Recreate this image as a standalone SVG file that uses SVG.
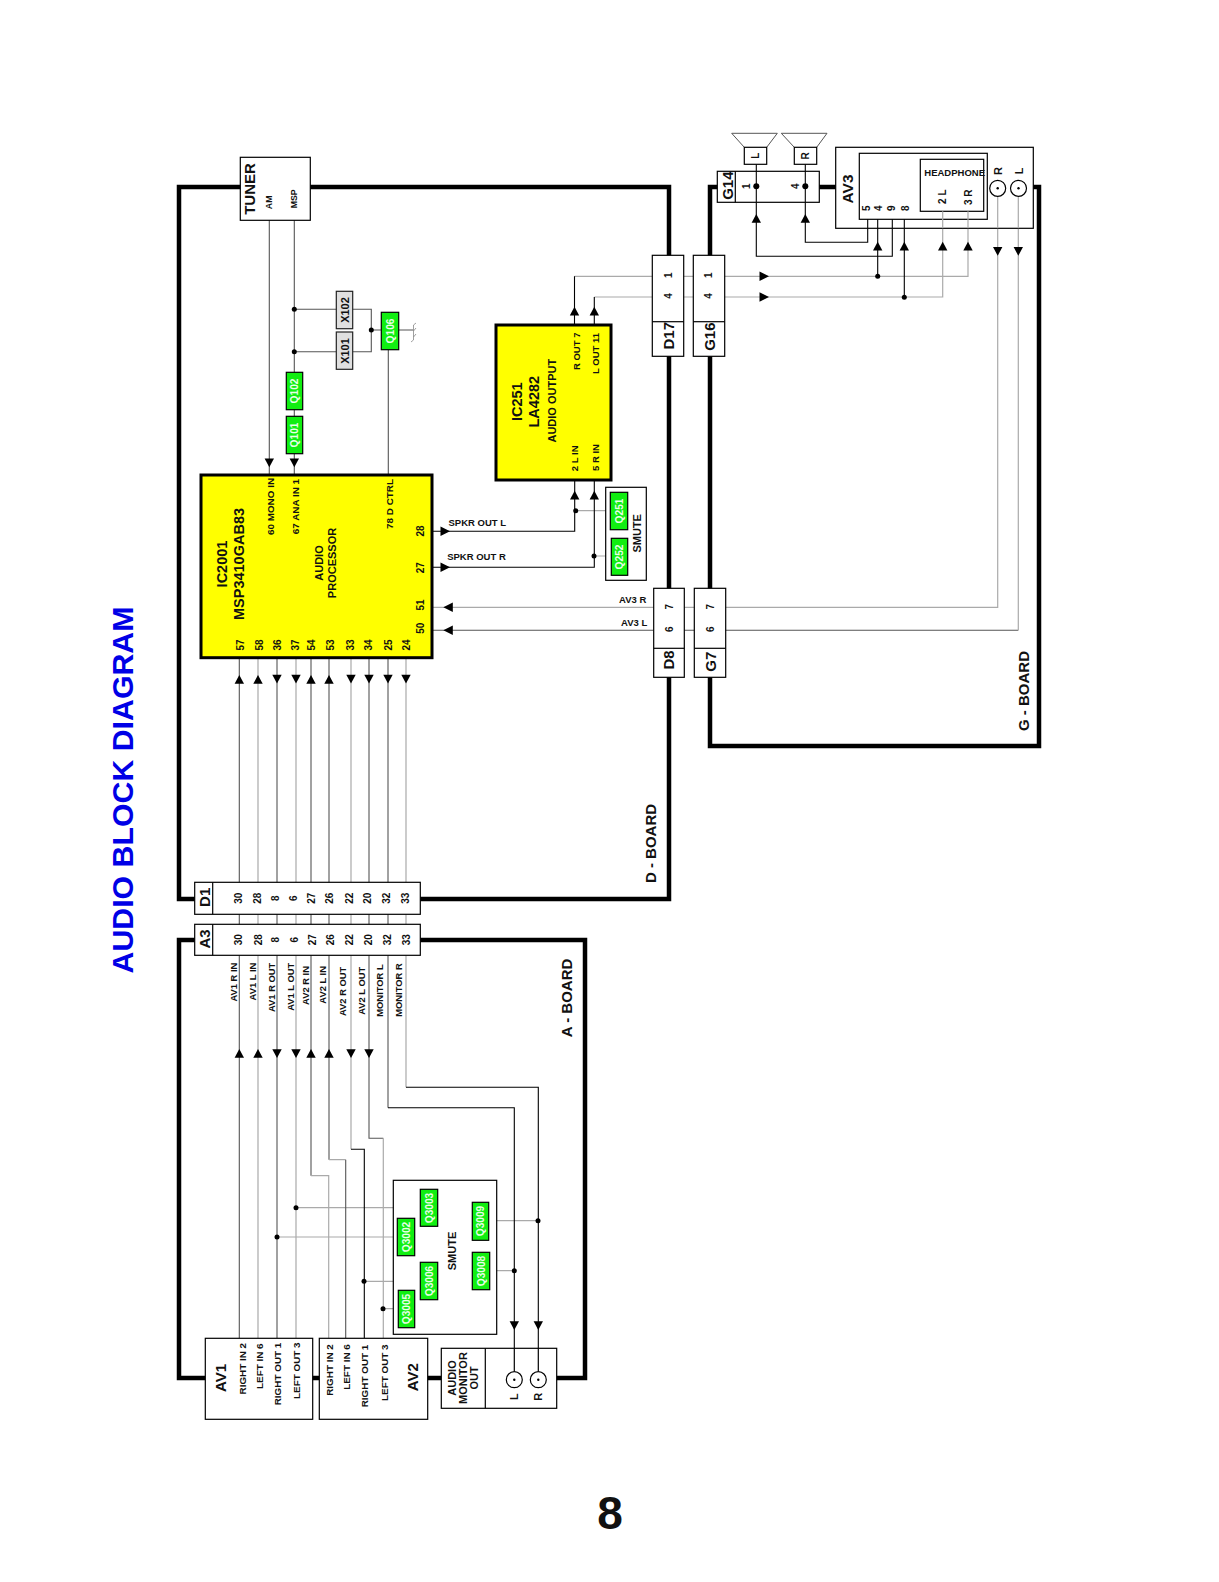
<svg xmlns="http://www.w3.org/2000/svg" width="1219" height="1582" viewBox="0 0 1219 1582">
<style>
text{font-family:"Liberation Sans",Arial,sans-serif;font-weight:bold;fill:#111;dominant-baseline:central;text-anchor:middle}
.h{dominant-baseline:auto;text-anchor:start}
.e{text-anchor:end}
.f8{font-size:8.8px}.f9{font-size:9.4px}.f95{font-size:9.5px}.f98{font-size:9.9px}.f10{font-size:10px}.f11{font-size:11px}.f14{font-size:14.5px}.f15{font-size:15px}.f155{font-size:15.5px}
.q{font-size:10.2px;fill:#e8ffe8}
.b{fill:#fff;stroke:#000;stroke-width:1.2}
.g{fill:#11ee11;stroke:#000;stroke-width:1.2}
.x{fill:#e0e0e0;stroke:#222;stroke-width:1.2}
.y{fill:#ffff00;stroke:#000;stroke-width:3}
.board{fill:none;stroke:#000;stroke-width:4.5}
.k{fill:none;stroke:#000;stroke-width:1.1}
.d{fill:none;stroke:#555;stroke-width:1.1}
.l{fill:none;stroke:#aaa;stroke-width:1.2}
.dot{fill:#000}
</style>
<defs>
<path id="au" d="M0 0L-4.7 8.8L4.7 8.8Z"/>
<path id="ad" d="M0 0L-4.7 -8.8L4.7 -8.8Z"/>
<path id="ar" d="M0 0L-9.5 -4.7L-9.5 4.7Z"/>
<path id="al" d="M0 0L9.5 -4.7L9.5 4.7Z"/>
</defs>
<rect width="1219" height="1582" fill="#fff"/>
<text id="title" transform="translate(122.5 790) rotate(-90)" style="font-size:30.3px;fill:#0000e6">AUDIO BLOCK DIAGRAM</text>
<text id="page" x="610" y="1513" style="font-size:46px">8</text>
<g id="boards">
<rect id="d-board" class="board" x="179" y="187" width="490" height="712"/>
<rect id="a-board" class="board" x="179" y="940" width="406" height="438"/>
<rect id="g-board" class="board" x="710" y="187" width="329" height="559"/>
<text transform="translate(650 843.5) rotate(-90)" class="f15">D - BOARD</text>
<text transform="translate(566 998) rotate(-90)" class="f15">A - BOARD</text>
<text transform="translate(1023 691) rotate(-90)" class="f15">G - BOARD</text>
</g>
<g id="connectors">
<path class="d" d="M239.3 657V1338M277 657V1338M311 657V1175.7M329 657V1159.7M369 657V1138.3H383.3M388 657V1107.7M406 1000V1000M269.3 220V475M294.3 220V475M388.3 350V475M432 630.3H1018.3"/>
<path class="l" d="M258 657V1338M296 657V1338M351 657V1149.3M406 657V1087.3M383.3 1138.3V1338M311 1175.7H328.7V1338M329 1159.7H345.7M432 607.3H997.7V197M1018.3 630.3V197M296 1207.7H420M277 1237H397M488.7 1220.7H538M364.3 1281.3H420M383.3 1308.7H398M489.7 1270.7H514M575 510.7H610.3M594 556H611.3M574.5 276.3H968V211M594.3 297H942.7V211"/>
<path class="d" d="M345.7 1159.7V1338"/>
<path class="k" d="M351 1149.3H364.3V1338M406 1087.3H538.3V1379M388 1107.7H514.3V1379M574.5 325V276.3M594.3 325V297M432 531.3H574.7V480M432 567.3H594.3V480M756.3 164V256.3H892.3V219.3M805.3 164V242.3H867.7V219.3M877.7 219.3V276.3M904.3 219.3V297.3"/>
<path class="d" d="M294.3 309.3H336M294.3 351.7H336M352.7 309.3H371.3V351.7H352.7M371.3 330H381.3M398.7 330H413.3"/>
<path fill="none" stroke="#888" stroke-width=".8" d="M413.5 325V340M413.5 325L416 323M413.5 331L416 328M413.5 337L416 334M413.5 340L411 342"/>
<g>
<use href="#au" x="239.3" y="675"/><use href="#au" x="258" y="675"/><use href="#ad" x="277" y="683.5"/><use href="#ad" x="296" y="683.5"/><use href="#au" x="311" y="675"/><use href="#au" x="329" y="675"/><use href="#ad" x="351" y="683.5"/><use href="#ad" x="369" y="683.5"/><use href="#ad" x="388" y="683.5"/><use href="#ad" x="406" y="683.5"/>
<use href="#au" x="239.3" y="1049"/><use href="#au" x="258" y="1049"/><use href="#ad" x="277" y="1058"/><use href="#ad" x="296" y="1058"/><use href="#au" x="311" y="1049"/><use href="#au" x="329" y="1049"/><use href="#ad" x="351" y="1058"/><use href="#ad" x="369" y="1058"/>
<use href="#ad" x="514.3" y="1330"/><use href="#ad" x="538.3" y="1330"/>
<use href="#ad" x="269.3" y="467.3"/><use href="#ad" x="294.3" y="467.3"/>
<use href="#ar" x="450" y="531.3"/><use href="#ar" x="450" y="567.3"/><use href="#al" x="443.3" y="607.3"/><use href="#al" x="443.3" y="630.3"/>
<use href="#au" x="574.5" y="306.7"/><use href="#au" x="594.3" y="306.7"/><use href="#au" x="574.7" y="490.7"/><use href="#au" x="594.3" y="490.7"/>
<use href="#ar" x="769" y="276.3"/><use href="#ar" x="769" y="297"/>
<use href="#au" x="756.3" y="214"/><use href="#au" x="805.3" y="214"/><use href="#au" x="877.7" y="241.7"/><use href="#au" x="904.3" y="241.7"/><use href="#au" x="942.7" y="241.7"/><use href="#au" x="968" y="241.7"/>
<use href="#ad" x="997.7" y="255.7"/><use href="#ad" x="1018.3" y="255.7"/>
</g>
<g class="dot">
<circle cx="294.3" cy="309.3" r="2.5"/><circle cx="294.3" cy="351.7" r="2.5"/><circle cx="371.3" cy="330" r="2.5"/>
<circle cx="296" cy="1207.7" r="2.5"/><circle cx="277" cy="1237" r="2.5"/><circle cx="364" cy="1281.3" r="2.5"/><circle cx="383" cy="1308.7" r="2.5"/><circle cx="538" cy="1220.7" r="2.5"/><circle cx="514.3" cy="1270.7" r="2.5"/>
<circle cx="575.7" cy="510.7" r="2.5"/><circle cx="594" cy="556" r="2.5"/>
<circle cx="877.7" cy="276.3" r="2.5"/><circle cx="904.3" cy="297.3" r="2.5"/>
</g>
</g>
<g id="tuner"><rect class="b" x="240.3" y="157.3" width="70" height="63"/>
<text class="f15" transform="translate(249.3 189) rotate(-90)">TUNER</text><text class="f8" transform="translate(269 202.3) rotate(-90)">AM</text><text class="f8" transform="translate(294 198.8) rotate(-90)">MSP</text></g>
<g id="x102"><rect class="x" x="336.3" y="291.3" width="16.4" height="37.4"/><text class="f11" transform="translate(344.7 310) rotate(-90)">X102</text></g>
<g id="x101"><rect class="x" x="336.3" y="332" width="16.4" height="37.3"/><text class="f11" transform="translate(344.7 351) rotate(-90)">X101</text></g>
<g id="q106"><rect class="g" x="381.3" y="312.3" width="17.4" height="37.4"/><text class="q" transform="translate(390 331) rotate(-90)">Q106</text></g>
<g id="q102"><rect class="g" x="286.3" y="372.3" width="16.4" height="37.4"/><text class="q" transform="translate(294.5 391) rotate(-90)">Q102</text></g>
<g id="q101"><rect class="g" x="286.3" y="416.3" width="16.4" height="37.4"/><text class="q" transform="translate(294.5 435) rotate(-90)">Q101</text></g>
<g id="ic2001"><rect class="y" x="201" y="475" width="231" height="182.7"/>
<text class="f14" transform="translate(221.7 564) rotate(-90)">IC2001</text>
<text class="f14" transform="translate(239.3 564) rotate(-90)">MSP3410GAB83</text>
<text class="f98" transform="translate(270 506.5) rotate(-90)">60 MONO IN</text>
<text class="f98" transform="translate(295.3 506.5) rotate(-90)">67 ANA IN 1</text>
<text class="f98" transform="translate(389 504) rotate(-90)">78 D CTRL</text>
<text class="f11" transform="translate(319.3 563) rotate(-90)">AUDIO</text>
<text class="f11" transform="translate(332.3 563) rotate(-90)">PROCESSOR</text>
<g class="f10">
<text transform="translate(240 645) rotate(-90)">57</text><text transform="translate(259 645) rotate(-90)">58</text><text transform="translate(277 645) rotate(-90)">36</text><text transform="translate(295 645) rotate(-90)">37</text><text transform="translate(311.5 645) rotate(-90)">54</text><text transform="translate(330 645) rotate(-90)">53</text><text transform="translate(350 645) rotate(-90)">33</text><text transform="translate(368 645) rotate(-90)">34</text><text transform="translate(388.7 645) rotate(-90)">25</text><text transform="translate(406 645) rotate(-90)">24</text>
<text transform="translate(420.7 531) rotate(-90)">28</text><text transform="translate(420.7 567.7) rotate(-90)">27</text><text transform="translate(420.7 605) rotate(-90)">51</text><text transform="translate(420.7 628.3) rotate(-90)">50</text>
</g></g>
<text class="h f95" x="448.5" y="525.7">SPKR OUT L</text>
<text class="h f95" x="447.2" y="560">SPKR OUT R</text>
<text class="h f95" x="619" y="603.3">AV3 R</text>
<text class="h f95" x="621" y="625.7">AV3 L</text>
<g id="ic251"><rect class="y" x="496" y="325" width="115" height="155"/>
<text class="f14" transform="translate(517.3 401.7) rotate(-90)">IC251</text>
<text class="f14" transform="translate(534.3 401.7) rotate(-90)">LA4282</text>
<text class="f11" transform="translate(552.3 400.7) rotate(-90)">AUDIO OUTPUT</text>
<text class="f95" transform="translate(576.7 351.3) rotate(-90)">R OUT 7</text>
<text class="f95" transform="translate(595.7 353.5) rotate(-90)">L OUT 11</text>
<text class="f95" transform="translate(574.3 458.3) rotate(-90)">2 L IN</text>
<text class="f95" transform="translate(595 457.5) rotate(-90)">5 R IN</text></g>
<g id="smute-d"><rect class="b" x="605.7" y="487.3" width="40.6" height="93"/>
<text class="f11" transform="translate(636.7 533.3) rotate(-90)">SMUTE</text>
<rect class="g" x="610.3" y="492.3" width="17.4" height="37.4"/><text class="q" transform="translate(619 511) rotate(-90)">Q251</text>
<rect class="g" x="611.3" y="538.3" width="16.4" height="37"/><text class="q" transform="translate(619.5 557) rotate(-90)">Q252</text></g>
<g id="d17"><rect class="b" x="652.3" y="255.3" width="31.4" height="101"/><path class="b" d="M652.3 321.7H683.7"/>
<text class="f15" transform="translate(668 335.7) rotate(-90)">D17</text><text class="f10" transform="translate(668.3 275.3) rotate(-90)">1</text><text class="f10" transform="translate(668.3 296) rotate(-90)">4</text></g>
<g id="g16"><rect class="b" x="693.3" y="255.3" width="31.4" height="101"/><path class="b" d="M693.3 321.7H724.7"/>
<text class="f15" transform="translate(709 336.7) rotate(-90)">G16</text><text class="f10" transform="translate(708.3 275.3) rotate(-90)">1</text><text class="f10" transform="translate(708.3 296) rotate(-90)">4</text></g>
<g id="d8"><rect class="b" x="653.7" y="588.3" width="30.6" height="89"/><path class="b" d="M653.7 648.3H684.3"/>
<text class="f15" transform="translate(668.8 660) rotate(-90)">D8</text><text class="f10" transform="translate(669.3 606.7) rotate(-90)">7</text><text class="f10" transform="translate(669.3 629.3) rotate(-90)">6</text></g>
<g id="g7"><rect class="b" x="694.3" y="588.3" width="31.4" height="89"/><path class="b" d="M694.3 648.3H725.7"/>
<text class="f15" transform="translate(710.5 661.7) rotate(-90)">G7</text><text class="f10" transform="translate(710.5 606.7) rotate(-90)">7</text><text class="f10" transform="translate(710.5 629.3) rotate(-90)">6</text></g>
<g id="d1"><rect class="b" x="194.7" y="882.3" width="225.6" height="32"/><path class="b" d="M212.7 882.3V914.3"/>
<text class="f15" transform="translate(204 897.3) rotate(-90)">D1</text>
<g class="f10"><text transform="translate(238.3 898.3) rotate(-90)">30</text><text transform="translate(257.3 898.3) rotate(-90)">28</text><text transform="translate(275 898.3) rotate(-90)">8</text><text transform="translate(293.7 898.3) rotate(-90)">6</text><text transform="translate(311 898.3) rotate(-90)">27</text><text transform="translate(329.3 898.3) rotate(-90)">26</text><text transform="translate(349 898.3) rotate(-90)">22</text><text transform="translate(367.3 898.3) rotate(-90)">20</text><text transform="translate(386.7 898.3) rotate(-90)">32</text><text transform="translate(405.3 898.3) rotate(-90)">33</text></g></g>
<g id="a3"><rect class="b" x="194.7" y="924.3" width="225.6" height="31"/><path class="b" d="M212.7 924.3V955.3"/>
<text class="f15" transform="translate(204 939) rotate(-90)">A3</text>
<g class="f10"><text transform="translate(238.7 939.7) rotate(-90)">30</text><text transform="translate(258 939.7) rotate(-90)">28</text><text transform="translate(275.7 939.7) rotate(-90)">8</text><text transform="translate(294.7 939.7) rotate(-90)">6</text><text transform="translate(312 939.7) rotate(-90)">27</text><text transform="translate(330.3 939.7) rotate(-90)">26</text><text transform="translate(349.7 939.7) rotate(-90)">22</text><text transform="translate(368.3 939.7) rotate(-90)">20</text><text transform="translate(387 939.7) rotate(-90)">32</text><text transform="translate(406 939.7) rotate(-90)">33</text></g></g>
<g id="a-signals" class="f9">
<text class="e" transform="translate(233.3 962.7) rotate(-90)">AV1 R IN</text>
<text class="e" transform="translate(252.3 962.7) rotate(-90)">AV1 L IN</text>
<text class="e" transform="translate(271 962.7) rotate(-90)">AV1 R OUT</text>
<text class="e" transform="translate(290 962.7) rotate(-90)">AV1 L OUT</text>
<text class="e" transform="translate(305 966) rotate(-90)">AV2 R IN</text>
<text class="e" transform="translate(322 966) rotate(-90)">AV2 L IN</text>
<text class="e" transform="translate(342.7 966.7) rotate(-90)">AV2 R OUT</text>
<text class="e" transform="translate(361 966.7) rotate(-90)">AV2 L OUT</text>
<text class="e" transform="translate(379.7 964.3) rotate(-90)">MONITOR L</text>
<text class="e" transform="translate(398.3 963.3) rotate(-90)">MONITOR R</text>
</g>
<g id="smute-a"><rect class="b" x="393.3" y="1180.3" width="103.4" height="154"/>
<text class="f11" transform="translate(452 1251) rotate(-90)">SMUTE</text>
<rect class="g" x="420.3" y="1189.3" width="17.4" height="37"/><text class="q" transform="translate(429 1208) rotate(-90)">Q3003</text>
<rect class="g" x="397.3" y="1218.3" width="17.4" height="37.4"/><text class="q" transform="translate(406 1237) rotate(-90)">Q3002</text>
<rect class="g" x="420.3" y="1262.3" width="17.4" height="37.4"/><text class="q" transform="translate(429 1281) rotate(-90)">Q3006</text>
<rect class="g" x="398.3" y="1290.3" width="16.4" height="37.4"/><text class="q" transform="translate(406.5 1309) rotate(-90)">Q3005</text>
<rect class="g" x="472.3" y="1202.3" width="16.4" height="38"/><text class="q" transform="translate(480.5 1221) rotate(-90)">Q3009</text>
<rect class="g" x="472.3" y="1252.3" width="17.4" height="37.4"/><text class="q" transform="translate(481 1271) rotate(-90)">Q3008</text></g>
<g id="av1"><rect class="b" x="205.3" y="1338.3" width="107.4" height="81"/>
<text class="f15" transform="translate(220 1378) rotate(-90)">AV1</text>
<text class="f98" transform="translate(242 1368.7) rotate(-90)">RIGHT IN 2</text>
<text class="f98" transform="translate(259.3 1366.2) rotate(-90)">LEFT IN 6</text>
<text class="f98" transform="translate(277.3 1374) rotate(-90)">RIGHT OUT 1</text>
<text class="f98" transform="translate(296.7 1370.7) rotate(-90)">LEFT OUT 3</text></g>
<g id="av2"><rect class="b" x="319.3" y="1338.3" width="108.4" height="81"/>
<text class="f98" transform="translate(329.3 1370) rotate(-90)">RIGHT IN 2</text>
<text class="f98" transform="translate(346.7 1367) rotate(-90)">LEFT IN 6</text>
<text class="f98" transform="translate(364.3 1376) rotate(-90)">RIGHT OUT 1</text>
<text class="f98" transform="translate(384 1372.7) rotate(-90)">LEFT OUT 3</text>
<text class="f15" transform="translate(412.5 1377.3) rotate(-90)">AV2</text></g>
<g id="audio-monitor"><rect class="b" x="441.3" y="1348.3" width="115.4" height="60"/><path class="b" d="M485.3 1348.3V1408.3M514.3 1348.3V1371M538.3 1348.3V1371"/>
<text class="f11" transform="translate(451.7 1378) rotate(-90)">AUDIO</text><text class="f11" transform="translate(462.7 1378) rotate(-90)">MONITOR</text><text class="f11" transform="translate(474.3 1378) rotate(-90)">OUT</text>
<circle class="b" cx="514.3" cy="1379.7" r="8"/><circle class="dot" cx="514.3" cy="1379.7" r="1.2"/>
<circle class="b" cx="538.3" cy="1379.7" r="8"/><circle class="dot" cx="538.3" cy="1379.7" r="1.2"/>
<text class="f11" transform="translate(514.3 1396.7) rotate(-90)">L</text><text class="f11" transform="translate(538.3 1396.7) rotate(-90)">R</text></g>
<g id="speaker-l"><path fill="none" stroke="#555" stroke-width="1" d="M744.3 147.3L731.7 133.3H777.3L766.7 147.3"/><rect class="b" x="744.3" y="147.3" width="22.4" height="17"/><text class="f10" transform="translate(755.5 155.8) rotate(-90)">L</text></g>
<g id="speaker-r"><path fill="none" stroke="#555" stroke-width="1" d="M794.3 147.3L781.3 133.3H827L816.7 147.3"/><rect class="b" x="794.3" y="147.3" width="22.4" height="17"/><text class="f10" transform="translate(805.5 155.8) rotate(-90)">R</text></g>
<g id="g14"><rect class="b" x="717.3" y="171.3" width="102" height="31"/><path class="b" d="M735.3 171.3V202.3"/>
<path class="k" d="M756.3 171.3V202.3M805.3 171.3V202.3"/>
<circle class="dot" cx="756.3" cy="186.3" r="3"/><circle class="dot" cx="805.3" cy="186.3" r="3"/>
<text class="f15" transform="translate(727.8 185.7) rotate(-90)">G14</text><text class="f10" transform="translate(746.7 186.3) rotate(-90)">1</text><text class="f10" transform="translate(795 186.3) rotate(-90)">4</text></g>
<g id="av3"><rect class="b" x="835.7" y="147.3" width="197.6" height="81"/><rect class="b" x="859.3" y="153.3" width="128" height="66"/><rect class="b" x="920.3" y="159.3" width="63.4" height="52"/>
<path class="k" d="M867.7 219.3V228.3M877.7 219.3V228.3M892.3 219.3V228.3M904.3 219.3V228.3"/><path class="l" d="M942.7 211.3V228.3M968 211.3V228.3M997.7 197V228.3M1018.3 197V228.3"/>
<text class="f155" transform="translate(847 189) rotate(-90)">AV3</text>
<g class="f10"><text transform="translate(866.7 208.3) rotate(-90)">5</text><text transform="translate(878.3 208.3) rotate(-90)">4</text><text transform="translate(891.7 208.3) rotate(-90)">9</text><text transform="translate(905 208.3) rotate(-90)">8</text></g>
<text class="h f95" x="924.3" y="176">HEADPHONE</text>
<text class="f10" transform="translate(942.7 196.7) rotate(-90)">2 L</text><text class="f10" transform="translate(968.3 197.3) rotate(-90)">3 R</text>
<circle class="b" cx="997.7" cy="188.3" r="8"/><circle class="dot" cx="997.7" cy="188.3" r="1.2"/>
<circle class="b" cx="1018.5" cy="188.3" r="8"/><circle class="dot" cx="1018.5" cy="188.3" r="1.2"/>
<text class="f11" transform="translate(997.7 171) rotate(-90)">R</text><text class="f11" transform="translate(1018.5 171) rotate(-90)">L</text></g>
</svg>
